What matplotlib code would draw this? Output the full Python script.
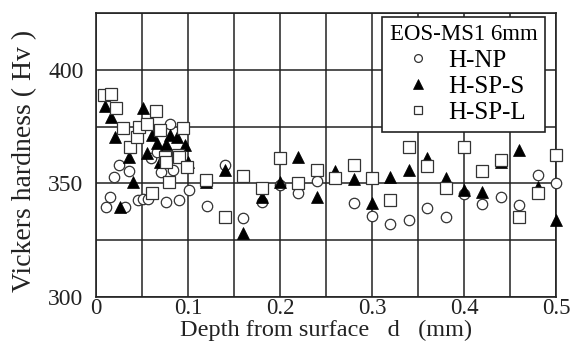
import matplotlib
matplotlib.use("Agg")
import matplotlib.pyplot as plt
from matplotlib.ticker import MultipleLocator

plt.rcParams['font.family'] = ['Liberation Serif', 'DejaVu Serif']

# H-NP (open circles)
np_d = [0.011, 0.015, 0.020, 0.025, 0.032, 0.036, 0.046, 0.051, 0.057, 0.060,
        0.066, 0.071, 0.076, 0.080, 0.084, 0.090, 0.101, 0.121, 0.140, 0.160,
        0.180, 0.200, 0.220, 0.240, 0.280, 0.300, 0.320, 0.340, 0.360, 0.380,
        0.400, 0.420, 0.440, 0.460, 0.480, 0.500]
np_hv = [339.5, 343.9, 352.6, 357.9, 339.5, 355.3, 342.5, 343.0, 343.0, 361.0,
         363.6, 354.8, 341.7, 376.3, 356.1, 342.5, 346.9, 339.9, 358.3, 334.6,
         341.7, 349.1, 345.6, 350.9, 341.2, 335.5, 332.0, 333.8, 339.0, 335.1,
         345.2, 340.8, 343.9, 340.4, 353.5, 350.0]

# H-SP-S (filled triangles)
sps_d = [0.010, 0.016, 0.021, 0.026, 0.036, 0.040, 0.051, 0.055, 0.061, 0.066,
         0.070, 0.076, 0.080, 0.088, 0.097, 0.100, 0.120, 0.140, 0.160, 0.180,
         0.200, 0.220, 0.240, 0.260, 0.280, 0.300, 0.320, 0.340, 0.360, 0.380,
         0.400, 0.420, 0.440, 0.460, 0.480, 0.500]
sps_hv = [384.2, 379.4, 370.6, 339.5, 361.8, 350.4, 383.3, 363.2, 371.5, 368.0,
          359.2, 367.5, 371.5, 370.6, 367.1, 359.2, 350.5, 356.1, 328.1, 343.9,
          350.4, 361.4, 343.9, 355.3, 351.8, 341.2, 352.6, 355.7, 361.0, 352.2,
          346.9, 346.1, 359.2, 364.5, 348.2, 333.8]

# H-SP-L (open squares)
spl_d = [0.009, 0.016, 0.022, 0.029, 0.037, 0.045, 0.047, 0.055, 0.061, 0.065,
         0.070, 0.075, 0.076, 0.079, 0.089, 0.090, 0.095, 0.099, 0.120, 0.140,
         0.160, 0.180, 0.200, 0.220, 0.240, 0.260, 0.280, 0.300, 0.320, 0.340,
         0.360, 0.380, 0.400, 0.420, 0.440, 0.460, 0.480, 0.500]
spl_hv = [389.0, 389.5, 383.3, 374.6, 366.2, 370.6, 375.0, 376.3, 345.6, 382.0,
          373.7, 361.4, 359.6, 350.4, 362.3, 361.4, 374.6, 357.0, 351.3, 335.1,
          353.1, 347.8, 361.0, 350.0, 356.1, 352.2, 358.3, 352.2, 342.5, 365.8,
          357.5, 347.8, 365.8, 355.3, 360.1, 335.1, 345.6, 362.7]

fig = plt.figure(figsize=(5.74, 3.5), dpi=100)
ax = fig.add_axes([0.1672, 0.1514, 0.8014, 0.8115])

ax.plot(np_d, np_hv, 'o', ms=7.5, mfc='white', mec='#333333', mew=0.9,
        label='H-NP', zorder=3, clip_on=False)
ax.plot(sps_d, sps_hv, '^', ms=9, mfc='black', mec='black', mew=0.5,
        label='H-SP-S', zorder=4, clip_on=False)
ax.plot(spl_d, spl_hv, 's', ms=8.5, mfc='white', mec='#333333', mew=0.9,
        label='H-SP-L', zorder=5, clip_on=False)

ax.set_xlim(0, 0.5)
ax.set_ylim(300, 425)
ax.xaxis.set_minor_locator(MultipleLocator(0.05))
ax.yaxis.set_major_locator(MultipleLocator(50))
ax.yaxis.set_minor_locator(MultipleLocator(25))
ax.set_xticks([0, 0.1, 0.2, 0.3, 0.4, 0.5])
ax.set_xticklabels(['0', '0.1', '0.2', '0.3', '0.4', '0.5'])
ax.grid(True, which='both', color='#222222', lw=1.1)
ax.set_axisbelow(True)
ax.tick_params(which='both', length=0, colors='#222222')
ax.tick_params(axis='y', labelsize=17, pad=9)
ax.tick_params(axis='x', labelsize=16.5, pad=1)
for s in ax.spines.values():
    s.set_color('#222222')
    s.set_linewidth(1.2)

ax.set_xlabel('Depth from surface   d   (mm)', fontsize=17.5, color='#222222',
              labelpad=0)
ax.set_ylabel('Vickers hardness ( Hv )', fontsize=20, color='#222222')
ax.yaxis.set_label_coords(-0.128, 0.48)

leg = ax.legend(title='EOS-MS1 6mm', loc='upper right',
                bbox_to_anchor=(0.976, 0.986), borderaxespad=0,
                fontsize=18, title_fontsize=16.5, fancybox=False,
                edgecolor='#222222', framealpha=1, handletextpad=0.5,
                handlelength=1.4, labelspacing=0.15, borderpad=0.3,
                markerscale=0.75)
leg.get_frame().set_linewidth(1.2)

fig.savefig('out.png', dpi=100)
